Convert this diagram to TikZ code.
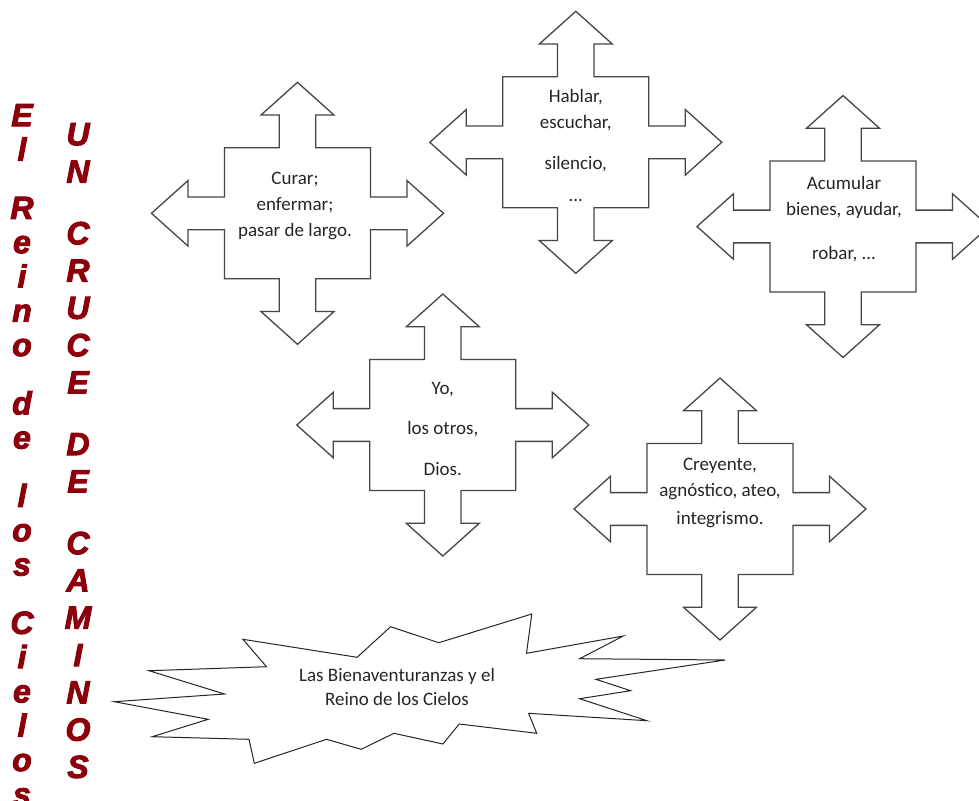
\documentclass[tikz,border=0pt]{standalone}
\usepackage{fontspec}
\setmainfont{Carlito}
\newfontfamily\titlefont{Liberation Sans}[UprightFont={* Bold Italic}, FakeBold=3]
\usepackage{xcolor}
\usetikzlibrary{positioning}
\definecolor{titlered}{RGB}{140,0,12}
\definecolor{outline}{RGB}{70,70,70}
\tikzset{%
% Specifications for style of shapes and texts:
crossarrow/.style = {draw=outline, line width=1.3pt, fill=white, line join=miter},
burst/.style = {draw=black!85, line width=1pt, fill=white, line join=miter},
boxtext/.style = {align=center, inner sep=0pt, text=black!85, font=\fontsize{19}{26}\selectfont},
titlecol/.style = {align=center, inner sep=0pt, anchor=north, text=titlered},
quadarrow/.pic = {
    \draw[crossarrow] (0,1) -- (0.25,0.75) -- (0.125,0.75) -- (0.125,0.5) -- (0.5,0.5)
        -- (0.5,0.125) -- (0.75,0.125) -- (0.75,0.25) -- (1,0) -- (0.75,-0.25) -- (0.75,-0.125)
        -- (0.5,-0.125) -- (0.5,-0.5) -- (0.125,-0.5) -- (0.125,-0.75) -- (0.25,-0.75) -- (0,-1)
        -- (-0.25,-0.75) -- (-0.125,-0.75) -- (-0.125,-0.5) -- (-0.5,-0.5) -- (-0.5,-0.125)
        -- (-0.75,-0.125) -- (-0.75,-0.25) -- (-1,0) -- (-0.75,0.25) -- (-0.75,0.125)
        -- (-0.5,0.125) -- (-0.5,0.5) -- (-0.125,0.5) -- (-0.125,0.75) -- (-0.25,0.75) -- cycle;
},
}

\begin{document}
\begin{tikzpicture}[x=1pt, y=-1pt]
        \useasboundingbox[fill=white] (0,0) rectangle (979,800);

        % Title columns
        \node (reino) [titlecol, font=\titlefont\fontsize{32}{34.3}\selectfont] at (22,104)
            {E\\l\\[24pt]R\\e\\i\\n\\o\\[24pt]d\\e\\[24pt]l\\o\\s\\[24pt]C\\i\\e\\l\\o\\s};
        \node (cruce) [titlecol, font=\titlefont\fontsize{32}{37.3}\selectfont] at (78,123)
            {U\\N\\[24.4pt]C\\R\\U\\C\\E\\[24.4pt]D\\E\\[24.4pt]C\\A\\M\\I\\N\\O\\S};

        % Crossroads (position, etc.)
        \pic[xscale=146, yscale=131] at (297.5,213.3) {quadarrow};
        \pic[xscale=146, yscale=131] at (575.8,142.3) {quadarrow};
        \pic[xscale=146, yscale=131] at (843,226.5) {quadarrow};
        \pic[xscale=146, yscale=131] at (442.8,425) {quadarrow};
        \pic[xscale=146, yscale=131] at (720,509) {quadarrow};

        \node (curar) [boxtext] at (295,206) {Curar;\\enfermar;\\pasar de largo.};
        \node (hablar) [boxtext] at (575.8,145.3) {Hablar,\\escuchar,\\[14.7pt]silencio,\\[5.7pt]...};
        \node (acumular) [boxtext] at (844,219.5) {Acumular\\bienes, ayudar,\\[18pt]robar, ...};
        \node (yo) [boxtext] at (442.8,428.7) {Yo,\\[14.5pt]los otros,\\[14.5pt]Dios.};
        \node (creyente) [boxtext] at (720,492.9) {Creyente,\\agnóstico, ateo,\\[1.3pt]integrismo.};

        % Explosion
        \draw[burst] (114.3,701.7) -- (224.5,694) -- (149,670.7) -- (266.5,666.7) -- (242.9,639.3)
            -- (357.1,657.3) -- (390.6,626.7) -- (438.8,642.7) -- (531.8,614) -- (526.5,653.3)
            -- (623.3,636) -- (579.6,658.7) -- (725.3,660) -- (595.9,679.3) -- (630.6,690.7)
            -- (579.6,698.7) -- (647,720.7) -- (528.6,713.3) -- (536.7,733.3) -- (459.2,724)
            -- (442.9,744) -- (393.9,733.3) -- (361.2,749.3) -- (326.5,739.3) -- (254.3,763.3)
            -- (249,739.3) -- (152.2,736.7) -- (208.2,719.3) -- cycle;
        \node (bienaventuranzas) [boxtext] at (397,687.2) {Las Bienaventuranzas y el\\[-1.7pt]Reino de los Cielos};
    \end{tikzpicture}
\end{document}
